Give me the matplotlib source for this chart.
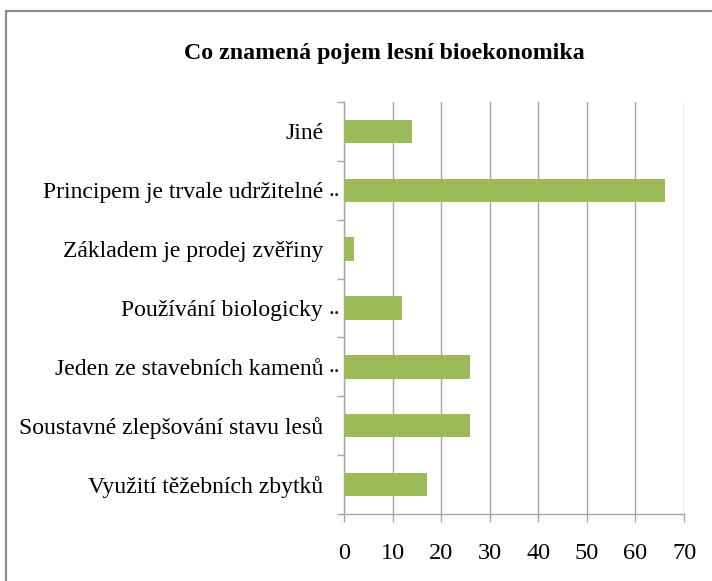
"""Horizontal bar chart: Co znamená pojem lesní bioekonomika"""
import matplotlib
matplotlib.use('Agg')
import matplotlib.pyplot as plt
from matplotlib.patches import Rectangle
import numpy as np

# Data (bottom -> top, as drawn)
CATEGORIES = [
    'Využití těžebních zbytků',
    'Soustavné zlepšování stavu lesů',
    'Jeden ze stavebních kamenů',
    'Používání biologicky',
    'Základem je prodej zvěřiny',
    'Principem je trvale udržitelné',
    'Jiné',
]
TRUNCATED = [False, False, True, True, False, True, False]   # Excel cut the label
VALUES = [17, 26, 26, 12, 2, 66, 14]
XTICKS = [0, 10, 20, 30, 40, 50, 60, 70]
TITLE = 'Co znamená pojem lesní bioekonomika'

BAR_COLOR = '#9BBB59'
GRID_COLOR = '#A6A6A6'
FONT = 'Liberation Serif'

plt.rcParams['font.family'] = FONT

fig = plt.figure(figsize=(7.12, 5.81), dpi=100)
ax = fig.add_axes([344/712, 1 - 514/581, 340/712, 412/581])

# chart-area border (right/bottom edges fall outside the picture)
fig.patches.append(Rectangle((6/712, -0.1), 1.2, 1 - 11/581 + 0.1,
                             transform=fig.transFigure, fill=False,
                             edgecolor='#8C8C8C', linewidth=1.6))

y = np.arange(len(CATEGORIES))
ax.barh(y, VALUES, height=0.4, color=BAR_COLOR, zorder=3)

ax.set_xlim(0, 70)
ax.set_ylim(-0.5, len(CATEGORIES) - 0.5)
ax.set_xticks(XTICKS)
ax.set_xticklabels([str(t) for t in XTICKS], fontsize=17.5)
ax.xaxis.grid(True, color=GRID_COLOR, linewidth=1.0, zorder=0)

ax.set_yticks(y)
ax.set_yticklabels(CATEGORIES, fontsize=17)
ax.set_yticks(np.arange(-0.5, len(CATEGORIES)), minor=True)
ax.tick_params(axis='y', which='major', length=0, pad=15)
ax.tick_params(axis='y', which='minor', length=5, width=1.0, color=GRID_COLOR)
ax.tick_params(axis='x', length=6, width=1.0, color=GRID_COLOR, pad=15)

for s in ['top', 'right']:
    ax.spines[s].set_visible(False)
for s in ['left', 'bottom']:
    ax.spines[s].set_color(GRID_COLOR)
    ax.spines[s].set_linewidth(1.0)

# the ".." left over from Excel's label truncation
for yi, cut in zip(y, TRUNCATED):
    if cut:
        ax.annotate('..', xy=(0, yi), xycoords=('axes fraction', 'data'),
                    xytext=(-11, 0), textcoords='offset points',
                    ha='left', va='center', fontsize=17)

fig.text(384/712, 1 - 53/581, TITLE, ha='center', va='center',
         fontsize=17.2, fontweight='bold')

fig.savefig('out.png', dpi=100)
